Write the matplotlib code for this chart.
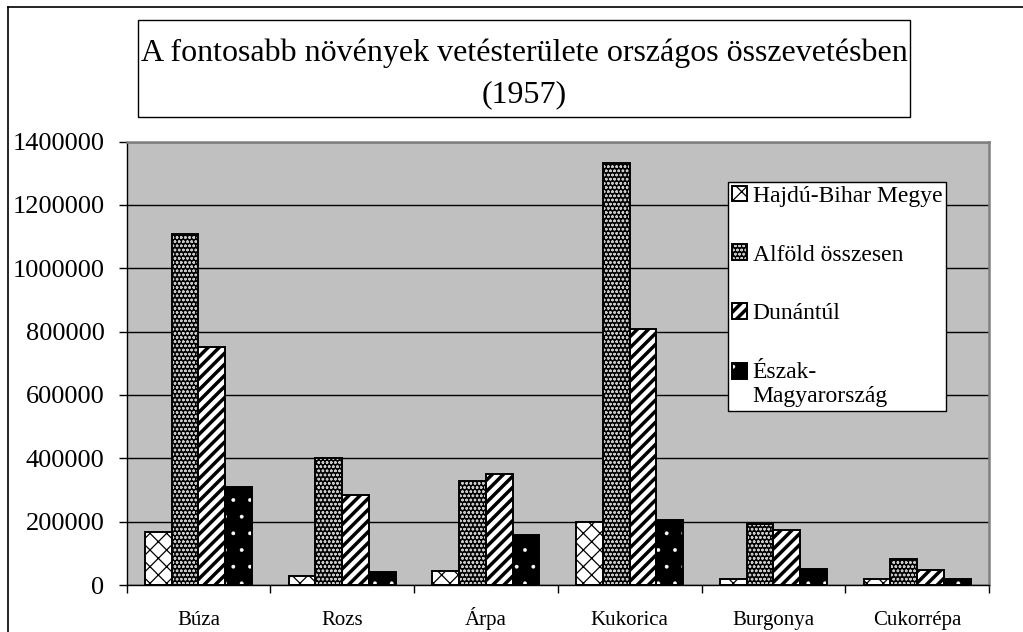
import matplotlib
matplotlib.use("Agg")
import matplotlib.pyplot as plt
from matplotlib.patches import Rectangle, Patch
from matplotlib.lines import Line2D
from matplotlib.legend_handler import HandlerBase
import numpy as np

categories = ["Búza", "Rozs", "Árpa", "Kukorica", "Burgonya", "Cukorrépa"]
series_names = ["Hajdú-Bihar Megye", "Alföld összesen", "Dunántúl", "Észak-\nMagyarország"]
hajdu_bihar = [166000, 28000, 44000, 198000, 18000, 18000]
alfold = [1107000, 401000, 328000, 1331000, 193000, 81000]
dunantul = [751000, 284000, 350000, 807000, 174000, 47000]
eszak = [310000, 42000, 158000, 204000, 50000, 18000]
y_ticks = [0, 200000, 400000, 600000, 800000, 1000000, 1200000, 1400000]
title_text = "A fontosabb növények vetésterülete országos összevetésben\n(1957)"

plt.rcParams['font.family'] = ['Liberation Serif', 'DejaVu Serif']

W, H = 1023, 632
fig = plt.figure(figsize=(W / 100, H / 100), dpi=100)
fig.patch.set_facecolor('white')


def px(x0, y0, x1, y1):
    return [x0 / W, 1 - y1 / H, (x1 - x0) / W, (y1 - y0) / H]


ax = fig.add_axes(px(126.5, 141.5, 989, 585))
ax.set_facecolor('#c0c0c0')

series = [hajdu_bihar, alfold, dunantul, eszak]
# (face, hatch, hatch colour, hatch linewidth)
styles = [
    ('white', 'xx', 'black', 0.9),
    ('black', 'oooo', '#c8c8c8', 0.7),
    ('white', '///', 'black', 2.5),
    ('black', '.', 'white', 0.3),
]


class LegendEntry:
    def __init__(self, fill, outline, dy):
        self.fill, self.outline, self.dy = fill, outline, dy


class EntryHandler(HandlerBase):
    def create_artists(self, legend, orig_handle, xdescent, ydescent, width, height,
                       fontsize, trans):
        arts = []
        for h in (orig_handle.fill, orig_handle.outline):
            r = Rectangle((-xdescent, -ydescent + orig_handle.dy * fontsize), width, height)
            r.update_from(h)
            if hasattr(h, 'get_hatch_linewidth') and hasattr(r, 'set_hatch_linewidth'):
                r.set_hatch_linewidth(h.get_hatch_linewidth())
            r.set_transform(trans)
            arts.append(r)
        return arts


x = np.arange(len(categories))
bw = 0.186
handles = []
for i, (vals, (fc, hatch, hc, hlw)) in enumerate(zip(series, styles)):
    pos = x + (i - 1.5) * bw
    with plt.rc_context({'hatch.linewidth': hlw}):
        fill = ax.bar(pos, vals, bw, color=fc, edgecolor=hc, hatch=hatch,
                      linewidth=0, zorder=2)
        for p in fill.patches:
            if hasattr(p, 'set_hatch_linewidth'):
                p.set_hatch_linewidth(hlw)
        ax.bar(pos, vals, bw, fill=False, edgecolor='black', linewidth=1.4, zorder=3)
        hp = Patch(facecolor=fc, edgecolor=hc, hatch=hatch, linewidth=0)
        if hasattr(hp, 'set_hatch_linewidth'):
            hp.set_hatch_linewidth(hlw)
    op = Patch(facecolor='none', edgecolor='black', linewidth=1.4)
    handles.append(LegendEntry(hp, op, 0.57 if i == 3 else 0.0))

ax.set_xlim(-0.5, len(categories) - 0.5)
ax.set_ylim(0, 1400000)
ax.set_yticks(y_ticks)
ax.set_yticklabels([str(v) for v in y_ticks])
ax.set_axisbelow(True)
ax.yaxis.grid(True, color='black', linewidth=1.0, zorder=1)

ax.set_xticks(x)
ax.set_xticklabels(categories)
ax.set_xticks(np.arange(len(categories) + 1) - 0.5, minor=True)
ax.tick_params(axis='x', which='major', length=0, pad=28.8, labelsize=15)
ax.tick_params(axis='x', which='minor', length=5.8, width=1, direction='out', color='black')
ax.tick_params(axis='y', length=5.8, width=1, direction='out', pad=10, labelsize=19)
for lbl in ax.get_xticklabels():
    lbl.set_verticalalignment('baseline')

ax.spines['left'].set_color('black')
ax.spines['bottom'].set_color('black')
ax.spines['left'].set_linewidth(1.0)
ax.spines['bottom'].set_linewidth(1.0)
for s in ('top', 'right'):
    ax.spines[s].set_color('#808080')
    ax.spines[s].set_linewidth(1.8)

leg = ax.legend(handles, series_names, handler_map={LegendEntry: EntryHandler()},
                loc='upper left', bbox_to_anchor=(728 / W, 1 - 182 / H),
                bbox_transform=fig.transFigure, borderaxespad=0,
                frameon=True, fancybox=False, framealpha=1, edgecolor='black',
                fontsize=17, borderpad=0.15, labelspacing=1.6,
                handlelength=0.64, handleheight=0.64, handletextpad=0.25)
leg.get_frame().set_linewidth(1.0)
leg.set_zorder(5)

# title box
fig.patches.append(Rectangle((138 / W, 1 - 117 / H), (910 - 138) / W, (117 - 20) / H,
                             transform=fig.transFigure, facecolor='white',
                             edgecolor='black', linewidth=1.0))
fig.text(524 / W, 1 - 74 / H, title_text, ha='center', va='center', fontsize=23,
         linespacing=1.55)

# outer chart border
fig.lines.append(Line2D([8 / W, 8 / W], [0, 1 - 7 / H], transform=fig.transFigure,
                        color='black', linewidth=1.2))
fig.lines.append(Line2D([8 / W, 1], [1 - 7 / H, 1 - 7 / H], transform=fig.transFigure,
                        color='black', linewidth=1.2))

fig.savefig('out.png', dpi=100)
